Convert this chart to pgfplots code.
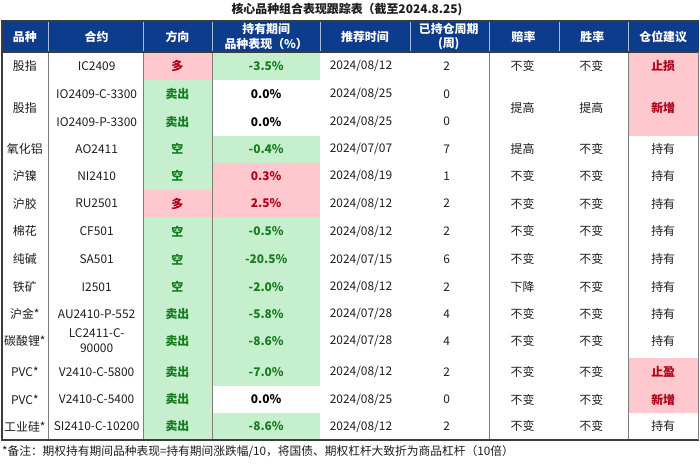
\documentclass[border=0pt]{standalone}
\usepackage{pgfplots}
\pgfplotsset{compat=1.18}
\usepackage{pgfplotstable}
\usepackage{fontspec}
\setmainfont{Noto Sans CJK SC}

\definecolor{hdrblue}{RGB}{14,60,140}
\definecolor{goodfill}{RGB}{198,239,206}
\definecolor{badfill}{RGB}{255,199,206}
\definecolor{goodtxt}{RGB}{20,125,30}
\definecolor{badtxt}{RGB}{176,0,24}
\definecolor{ink}{RGB}{30,30,30}
\definecolor{rulegray}{RGB}{125,125,125}
\definecolor{framegray}{RGB}{60,60,60}

% header cells (white, bold)
\pgfplotstableread{
x y t
24 37 品种
96 37 合约
177 37 方向
266 29 持有期间
266 44 品种表现（\%）
365 37 推荐时间
449 29 已持仓周期
449 44 (周)
524 37 赔率
593 37 胜率
664 37 仓位建议
}\hdr

% plain body text
\pgfplotstableread{
x y t
24 66 股指
24 108 股指
24 149.5 氧化铝
24 176.5 沪镍
24 204 沪胶
24 232 棉花
24 260 纯碱
24 287.5 铁矿
24 315 沪金*
24 342 碳酸锂*
24 373 PVC*
24 400.5 PVC*
24 427.5 工业硅*
96 66 IC2409
96 94 IO2409-C-3300
96 122 IO2409-P-3300
96 149.5 AO2411
96 176.5 NI2410
96 204 RU2501
96 232 CF501
96 260 SA501
96 287.5 I2501
96 315 AU2410-P-552
96 334 LC2411-C-
96 349.5 90000
96 373 V2410-C-5800
96 400.5 V2410-C-5400
96 427.5 SI2410-C-10200
361 66 2024/08/12
361 94 2024/08/25
361 122 2024/08/25
361 149.5 2024/07/07
361 176.5 2024/08/19
361 204 2024/08/12
361 232 2024/08/12
361 260 2024/07/15
361 287.5 2024/08/12
361 315 2024/07/28
361 342 2024/07/28
361 373 2024/08/12
361 400.5 2024/08/25
361 427.5 2024/08/12
447 66 2
447 94 0
447 122 0
447 149.5 7
447 176.5 1
447 204 2
447 232 2
447 260 6
447 287.5 2
447 315 4
447 342 4
447 373 2
447 400.5 0
447 427.5 2
523 66 不变
523 108 提高
523 149.5 提高
523 176.5 不变
523 204 不变
523 232 不变
523 260 不变
523 287.5 下降
523 315 不变
523 342 不变
523 373 不变
523 400.5 不变
523 427.5 不变
592 66 不变
592 108 提高
592 149.5 不变
592 176.5 不变
592 204 不变
592 232 不变
592 260 不变
592 287.5 不变
592 315 不变
592 342 不变
592 373 不变
592 400.5 不变
592 427.5 不变
664 149.5 持有
664 176.5 持有
664 204 持有
664 232 持有
664 260 持有
664 287.5 持有
664 315 持有
664 342 持有
664 427.5 持有
}\plain

% green bold text
\pgfplotstableread{
x y t
177 94 卖出
177 122 卖出
177 149.5 空
177 176.5 空
177 232 空
177 260 空
177 287.5 空
177 315 卖出
177 342 卖出
177 373 卖出
177 400.5 卖出
177 427.5 卖出
266 66 -3.5\%
266 149.5 -0.4\%
266 232 -0.5\%
266 260 -20.5\%
266 287.5 -2.0\%
266 315 -5.8\%
266 342 -8.6\%
266 373 -7.0\%
266 427.5 -8.6\%
}\good

% red bold text
\pgfplotstableread{
x y t
177 66 多
177 204 多
266 176.5 0.3\%
266 204 2.5\%
664 66 止损
664 108 新增
664 373 止盈
664 400.5 新增
}\bad

% black bold text
\pgfplotstableread{
x y t
266 94 0.0\%
266 122 0.0\%
266 400.5 0.0\%
}\flat

\pgfplotsset{
  celltext/.style n args={2}{only marks, mark=none, forget plot,
    nodes near coords, point meta=explicit symbolic,
    every node near coord/.append style={anchor=center, inner sep=0pt,
      text=#1, font=#2\fontsize{12}{14}\selectfont}},
}

\newcommand{\cellbox}[5]{\addplot[fill=#1, draw=none, forget plot] coordinates {(#2,#4) (#3,#4) (#3,#5) (#2,#5)};}
\newcommand{\tabrule}[6]{\addplot[draw=#1, line width=#2, forget plot] coordinates {(#3,#4) (#5,#6)};}

\begin{document}
\begin{tikzpicture}
\begin{axis}[
    scale only axis,
    width=700bp, height=466bp,
    xmin=0, xmax=700, ymin=0, ymax=466,
    y dir=reverse,
    axis lines=none,
    clip=false,
]
% background
\cellbox{white}{0}{700}{0}{466}
% header band
\cellbox{hdrblue}{0}{700}{21}{52}
% green fills
\cellbox{goodfill}{143}{212}{80}{190}
\cellbox{goodfill}{143}{212}{218}{441}
\cellbox{goodfill}{212}{320}{52}{80}
\cellbox{goodfill}{212}{320}{136}{163}
\cellbox{goodfill}{212}{320}{218}{387}
\cellbox{goodfill}{212}{320}{414}{441}
% red fills
\cellbox{badfill}{143}{212}{52}{80}
\cellbox{badfill}{143}{212}{190}{218}
\cellbox{badfill}{212}{320}{163}{218}
\cellbox{badfill}{630}{699}{52}{136}
\cellbox{badfill}{630}{699}{359}{414}

% header separators
\tabrule{white!65!hdrblue}{0.8pt}{48}{21}{48}{52}
\tabrule{white!65!hdrblue}{0.8pt}{143}{21}{143}{52}
\tabrule{white!65!hdrblue}{0.8pt}{212}{21}{212}{52}
\tabrule{white!65!hdrblue}{0.8pt}{320}{21}{320}{52}
\tabrule{white!65!hdrblue}{0.8pt}{411}{21}{411}{52}
\tabrule{white!65!hdrblue}{0.8pt}{490}{21}{490}{52}
\tabrule{white!65!hdrblue}{0.8pt}{560}{21}{560}{52}
\tabrule{white!65!hdrblue}{0.8pt}{629}{21}{629}{52}
% body verticals
\tabrule{rulegray}{1.3pt}{48}{52}{48}{441}
\tabrule{rulegray}{1.3pt}{143}{52}{143}{441}
\tabrule{rulegray}{1.3pt}{212}{52}{212}{441}
\tabrule{rulegray}{1.3pt}{490}{52}{490}{441}
\tabrule{rulegray}{1.3pt}{629}{52}{629}{441}
% frame
\tabrule{framegray}{1.6pt}{0}{21}{700}{21}
\tabrule{framegray}{1.6pt}{0}{52}{700}{52}
\tabrule{framegray}{1.8pt}{0}{441}{700}{441}
\tabrule{framegray}{2.4pt}{1}{21}{1}{441}
\tabrule{rulegray}{1.2pt}{699.5}{52}{699.5}{441}

% cell texts
\addplot[celltext={white}{\bfseries}] table[x=x, y=y, meta=t] {\hdr};
\addplot[celltext={ink}{}] table[x=x, y=y, meta=t] {\plain};
\addplot[celltext={goodtxt}{\bfseries}] table[x=x, y=y, meta=t] {\good};
\addplot[celltext={badtxt}{\bfseries}] table[x=x, y=y, meta=t] {\bad};
\addplot[celltext={black}{\bfseries}] table[x=x, y=y, meta=t] {\flat};

\node[font=\bfseries\fontsize{12}{14}\selectfont, text=ink] at (axis cs:347,10) {核心品种组合表现跟踪表（截至2024.8.25)};
\node[anchor=west, inner sep=0pt, font=\fontsize{11.8}{14}\selectfont, text=ink] at (axis cs:1,453) {*备注：期权持有期间品种表现=持有期间涨跌幅/10，将国债、期权杠杆大致折为商品杠杆（10倍）};
\end{axis}
\end{tikzpicture}
\end{document}
